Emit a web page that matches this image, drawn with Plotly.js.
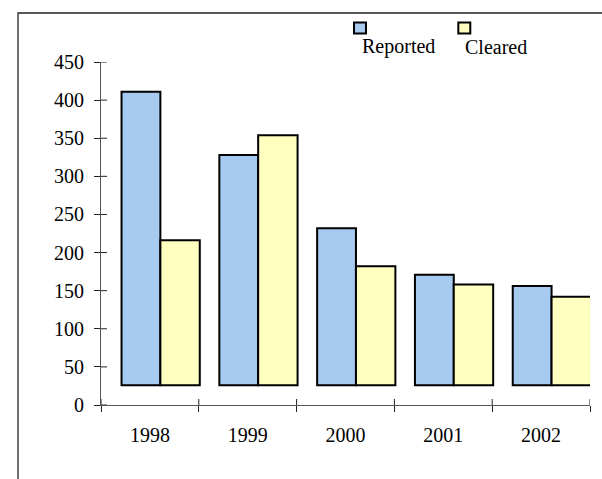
<!DOCTYPE html>
<html>
<head>
<meta charset="utf-8">
<script src="https://cdn.plot.ly/plotly-3.0.1.min.js"></script>
<style>html,body{margin:0;padding:0;background:#fff;}#chart{width:602px;height:479px;}</style>
</head>
<body>
<div id="chart"></div>
<script>
const years = ["1998", "1999", "2000", "2001", "2002"];
const reported = [411, 328, 232, 171, 156];
const cleared = [216, 354, 182, 158, 142];
const seriesNames = ["Reported", "Cleared"];
const yTickVals = [0, 50, 100, 150, 200, 250, 300, 350, 400, 450];
const barBase = 26;

const colReported = "#A6CAF0";
const colCleared = "#FFFFC0";
const FAMILY = "Liberation Serif";
function mkFont() { return {family: FAMILY, size: 20, color: "#000"}; }

const traces = [
  {type: "bar", name: seriesNames[0], x: years, y: reported.map(v => v - barBase), base: barBase,
   offset: -0.29, width: 0.397, marker: {color: colReported, line: {color: "#000", width: 2}},
   customdata: reported, hovertemplate: "%{x}: %{customdata}<extra>" + seriesNames[0] + "</extra>"},
  {type: "bar", name: seriesNames[1], x: years, y: cleared.map(v => v - barBase), base: barBase,
   offset: 0.107, width: 0.403, marker: {color: colCleared, line: {color: "#000", width: 2}},
   customdata: cleared, hovertemplate: "%{x}: %{customdata}<extra>" + seriesNames[1] + "</extra>"}
];

// inner halves of the crossing tick marks
const tickShapes = [];
yTickVals.forEach(v => tickShapes.push({type: "line", xref: "paper", xsizemode: "pixel", xanchor: 0,
  x0: 0, x1: 6, yref: "y", y0: v, y1: v, line: {color: "#222", width: 1}}));
for (let i = 0; i <= years.length; i++) {
  tickShapes.push({type: "line", xref: "x", x0: i - 0.5, x1: i - 0.5, yref: "paper", ysizemode: "pixel",
    yanchor: 0, y0: 0, y1: 6, line: {color: "#222", width: 1}});
}

const layout = {
  width: 602, height: 479,
  margin: {l: 101, r: 12, t: 62, b: 74},
  paper_bgcolor: "#fff", plot_bgcolor: "#fff",
  showlegend: false,
  barmode: "overlay",
  font: mkFont(),
  xaxis: {type: "category", categoryarray: years, categoryorder: "array", range: [-0.5, 4.5],
          tickson: "boundaries", ticks: "outside", ticklen: 6, tickcolor: "#222", tickwidth: 1,
          showline: true, linecolor: "#555", linewidth: 1, showgrid: false, zeroline: false,
          tickfont: mkFont(), ticklabelstandoff: 12},
  yaxis: {range: [0, 450], tickvals: yTickVals, ticks: "outside", ticklen: 6, tickcolor: "#222", tickwidth: 1,
          showline: true, linecolor: "#555", linewidth: 1, showgrid: false, zeroline: false,
          tickfont: mkFont(), ticklabelstandoff: 6},
  shapes: [
    {type: "rect", xref: "paper", yref: "paper", x0: -0.1697, x1: 2, y0: -1, y1: 1.1429,
     line: {color: "#222", width: 1.3}, fillcolor: "rgba(0,0,0,0)", layer: "below"},
    {type: "rect", xref: "paper", yref: "paper", x0: 0.5174, x1: 0.5419, y0: 1.0831, y1: 1.1152,
     line: {color: "#000", width: 2}, fillcolor: colReported},
    {type: "rect", xref: "paper", yref: "paper", x0: 0.7307, x1: 0.7552, y0: 1.0831, y1: 1.1152,
     line: {color: "#000", width: 2}, fillcolor: colCleared}
  ].concat(tickShapes),
  annotations: [
    {xref: "paper", yref: "paper", x: 0.529, y: 1.0446, xanchor: "left", yanchor: "middle",
     text: seriesNames[0], showarrow: false, font: mkFont()},
    {xref: "paper", yref: "paper", x: 0.741, y: 1.0446, xanchor: "left", yanchor: "middle",
     text: seriesNames[1], showarrow: false, font: mkFont()}
  ]
};

Plotly.newPlot("chart", traces, layout, {displayModeBar: false, staticPlot: true});
</script>
</body>
</html>
